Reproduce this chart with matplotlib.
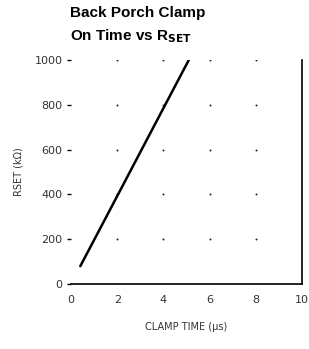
import numpy as np
import matplotlib.pyplot as plt

# curve
clamp_time = [0.4, 2.0, 3.5, 5.1]      # us
rset = [80, 393, 687, 1000]           # kOhm

x_ticks = [0, 2, 4, 6, 8, 10]
y_ticks = [0, 200, 400, 600, 800, 1000]
y_labels = ["0", "200", "400", "600", "800", "1000"]

fig = plt.figure(figsize=(3.09, 3.49), dpi=100)
ax = fig.add_axes([0.23, 0.186, 0.747, 0.642])

# dotted grid at the intersections
gx, gy = np.meshgrid(x_ticks[1:-1], y_ticks[1:])
ax.scatter(gx.ravel(), gy.ravel(), s=2, color="#222", zorder=1, linewidths=0)

ax.plot(clamp_time, rset, color="black", lw=1.8, solid_capstyle="round", zorder=3)

ax.set_xlim(0, 10)
ax.set_ylim(0, 1000)
ax.set_xticks(x_ticks)
ax.set_yticks(y_ticks)
ax.set_yticklabels(y_labels)

for s in ["top", "left"]:
    ax.spines[s].set_visible(False)
ax.spines["bottom"].set_linewidth(1.2)
ax.spines["right"].set_linewidth(1.2)

ax.tick_params(axis="y", length=3, width=1, direction="out", pad=3,
               labelsize=8, labelcolor="#333")
ax.tick_params(axis="x", length=0, pad=8, labelsize=8, labelcolor="#333")

ax.set_xlabel("CLAMP TIME (\u00b5s)", fontsize=7, color="#333", labelpad=12)
ax.set_ylabel("RSET (k\u03a9)", fontsize=7, color="#333", labelpad=8)

fig.text(0.227, 0.982, "Back Porch Clamp", fontsize=11, fontweight="bold",
         family="Liberation Sans", va="top", ha="left")
fig.text(0.227, 0.922, "On Time vs R$_{\\mathbf{SET}}$", fontsize=11,
         fontweight="bold", family="Liberation Sans", va="top", ha="left")

fig.savefig("out.png", dpi=100)
